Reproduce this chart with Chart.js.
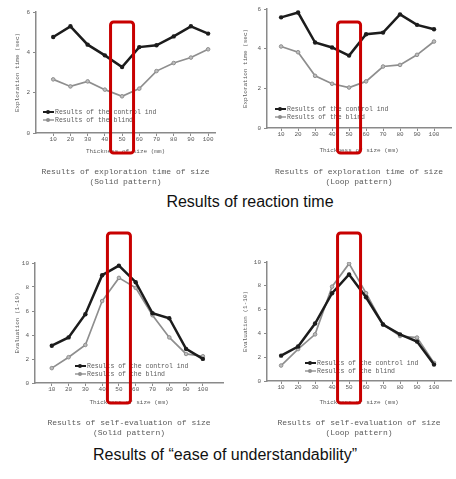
<!DOCTYPE html>
<html>
<head>
<meta charset="utf-8">
<script src="https://cdn.jsdelivr.net/npm/chart.js@4.4.1/dist/chart.umd.min.js"></script>
<style>
  body { margin: 0; background: #fff; }
  #wrap { position: relative; width: 456px; height: 479px; overflow: hidden; }
  canvas { position: absolute; }
  .cap { position: absolute; font-family: "Liberation Sans", Arial, sans-serif; font-size: 16px; line-height: 18px; color: #111; text-align: center; white-space: nowrap; }
</style>
</head>
<body>
<div id="wrap">
  <canvas id="c1" width="228" height="189" style="left:0;top:0"></canvas>
  <canvas id="c2" width="228" height="189" style="left:228px;top:0"></canvas>
  <canvas id="c3" width="228" height="212" style="left:0;top:228px"></canvas>
  <canvas id="c4" width="228" height="212" style="left:228px;top:228px"></canvas>
  <div class="cap" style="left:100px;top:193px;width:300px">Results of reaction time</div>
  <div class="cap" style="left:25px;top:446px;width:400px">Results of “ease of understandability”</div>
</div>
<script>
// thickness of size (mm)
const sizes = [10, 20, 30, 40, 50, 60, 70, 80, 90, 100];
const highlightSize = 50;
const legendLabels = ['Results of the control ind', 'Results of the blind'];

// exploration time (sec)
const timeSolidControl = [4.76, 5.29, 4.38, 3.85, 3.27, 4.26, 4.35, 4.79, 5.29, 4.93];
const timeSolidBlind = [2.66, 2.31, 2.56, 2.15, 1.82, 2.20, 3.07, 3.47, 3.74, 4.15];
const timeLoopControl = [5.58, 5.82, 4.31, 4.06, 3.65, 4.73, 4.81, 5.73, 5.20, 4.98];
const timeLoopBlind = [4.11, 3.82, 2.63, 2.23, 2.04, 2.35, 3.10, 3.18, 3.69, 4.36];
const timeTicks = [0, 2, 4, 6];

// self-evaluation (1-10)
const evalSolidControl = [3.11, 3.80, 5.73, 8.98, 9.78, 8.40, 5.81, 5.40, 2.84, 2.01];
const evalSolidBlind = [1.24, 2.15, 3.17, 6.83, 8.76, 7.93, 5.65, 3.80, 2.42, 2.23];
const evalLoopControl = [2.13, 2.90, 4.83, 7.38, 8.95, 7.04, 4.75, 3.92, 3.31, 1.38];
const evalLoopBlind = [1.30, 2.68, 3.92, 7.93, 9.86, 7.38, 4.75, 3.78, 3.65, 1.52];
const evalTicks = [0, 2, 4, 6, 8, 10];

const tiny = { family: 'Liberation Mono', size: 6 };
const textGray = '#5a5a5a';
const axisGray = '#8a8a8a';

// legend inside the plot + red highlight box around the 50 mm column
const overlay = {
  id: 'overlay',
  afterDatasetsDraw(chart, args, o) {
    const ctx = chart.ctx;
    ctx.save();
    chart.data.datasets.forEach((ds, i) => {
      const x = o.legendX, y = o.legendY + i * 8;
      ctx.strokeStyle = ds.borderColor;
      ctx.lineWidth = ds.borderWidth * 0.8;
      ctx.beginPath();
      ctx.moveTo(x - 5, y);
      ctx.lineTo(x + 6, y);
      ctx.stroke();
      ctx.fillStyle = ds.borderColor;
      ctx.beginPath();
      ctx.arc(x, y, 2, 0, Math.PI * 2);
      ctx.fill();
      ctx.fillStyle = textGray;
      ctx.font = '6.5px "Liberation Mono"';
      ctx.textBaseline = 'middle';
      ctx.fillText(ds.label, x + 7, y);
    });
    ctx.restore();
  },
  afterDraw(chart, args, o) {
    const ctx = chart.ctx;
    const px = chart.scales.x.getPixelForValue(highlightSize);
    ctx.save();
    ctx.strokeStyle = '#c80000';
    ctx.lineWidth = 3;
    ctx.beginPath();
    ctx.roundRect(px - 11.5, o.rectTop, 23, o.rectBottom - o.rectTop, 3);
    ctx.stroke();
    ctx.restore();
  }
};

function buildChart(id, s) {
  new Chart(document.getElementById(id).getContext('2d'), {
    type: 'line',
    data: {
      datasets: [{
        label: legendLabels[0],
        data: sizes.map((v, i) => ({ x: v, y: s.control[i] })),
        borderColor: '#1c1c1c',
        backgroundColor: '#1c1c1c',
        borderWidth: 2.5,
        pointRadius: 2.2,
        pointBorderWidth: 0
      }, {
        label: legendLabels[1],
        data: sizes.map((v, i) => ({ x: v, y: s.blind[i] })),
        borderColor: '#8e8e8e',
        backgroundColor: '#bdbdbd',
        borderWidth: 1.7,
        pointRadius: 1.8,
        pointBorderWidth: 1
      }]
    },
    options: {
      responsive: false,
      animation: false,
      layout: { padding: { top: s.padTop, right: s.padRight, left: 0, bottom: 0 } },
      plugins: {
        legend: { display: false },
        tooltip: { enabled: false },
        title: {
          display: true,
          position: 'bottom',
          fullSize: false,
          text: s.caption,
          color: textGray,
          font: { family: 'Liberation Mono', size: 8, lineHeight: '10px', weight: 'normal' },
          padding: { top: s.capPad, bottom: 2 }
        },
        overlay: s.overlay
      },
      scales: {
        x: {
          type: 'linear',
          min: s.xMin,
          max: s.xMax,
          afterBuildTicks: sc => { sc.ticks = sizes.map(v => ({ value: v })); },
          afterFit: sc => { sc.height = s.xHeight; },
          grid: { drawOnChartArea: false, tickLength: 3, color: axisGray, lineWidth: 1 },
          border: { color: axisGray, width: 1.5 },
          ticks: { font: tiny, color: textGray, padding: 0, maxRotation: 0, autoSkip: false },
          title: { display: true, text: 'Thickness of size (mm)', font: tiny, color: textGray, padding: { top: 0, bottom: 3 } }
        },
        y: {
          min: 0,
          max: s.yMax,
          afterBuildTicks: sc => { sc.ticks = s.yTicks.map(v => ({ value: v })); },
          afterFit: sc => { sc.width = s.yWidth; },
          grid: { drawOnChartArea: false, tickLength: 3, color: axisGray, lineWidth: 1 },
          border: { color: axisGray, width: 1.5 },
          ticks: { font: tiny, color: textGray, padding: 3 },
          title: { display: true, text: s.yTitle, font: tiny, color: textGray, padding: { top: 14, bottom: 0 } }
        }
      }
    },
    plugins: [overlay]
  });
}

buildChart('c1', {
  control: timeSolidControl, blind: timeSolidBlind,
  yMax: 6, yTicks: timeTicks, yTitle: 'Exploration time (sec)',
  xMin: 0, xMax: 104, yWidth: 36, xHeight: 25, padTop: 12, padRight: 13, capPad: 9,
  caption: ['Results of exploration time of size', '(Solid pattern)'],
  overlay: { legendX: 48, legendY: 112, rectTop: 22, rectBottom: 153 }
});

buildChart('c2', {
  control: timeLoopControl, blind: timeLoopBlind,
  yMax: 6, yTicks: timeTicks, yTitle: 'Exploration time (sec)',
  xMin: 1.7, xMax: 110, yWidth: 39, xHeight: 29, padTop: 9, padRight: 1, capPad: 10,
  caption: ['Results of exploration time of size', '(Loop pattern)'],
  overlay: { legendX: 52, legendY: 109, rectTop: 22, rectBottom: 153 }
});

buildChart('c3', {
  control: evalSolidControl, blind: evalSolidBlind,
  yMax: 10, yTicks: evalTicks, yTitle: 'Evaluation (1-10)',
  xMin: 0, xMax: 112, yWidth: 35, xHeight: 26, padTop: 35, padRight: 1, capPad: 9,
  caption: ['Results of self-evaluation of size', '(Solid pattern)'],
  overlay: { legendX: 80, legendY: 138, rectTop: 5, rectBottom: 175 }
});

buildChart('c4', {
  control: evalLoopControl, blind: evalLoopBlind,
  yMax: 10, yTicks: evalTicks, yTitle: 'Evaluation (1-10)',
  xMin: 1.7, xMax: 110, yWidth: 39, xHeight: 28, padTop: 34, padRight: 1, capPad: 9,
  caption: ['Results of self-evaluation of size', '(Loop pattern)'],
  overlay: { legendX: 82, legendY: 135, rectTop: 5, rectBottom: 175 }
});
</script>
</body>
</html>
